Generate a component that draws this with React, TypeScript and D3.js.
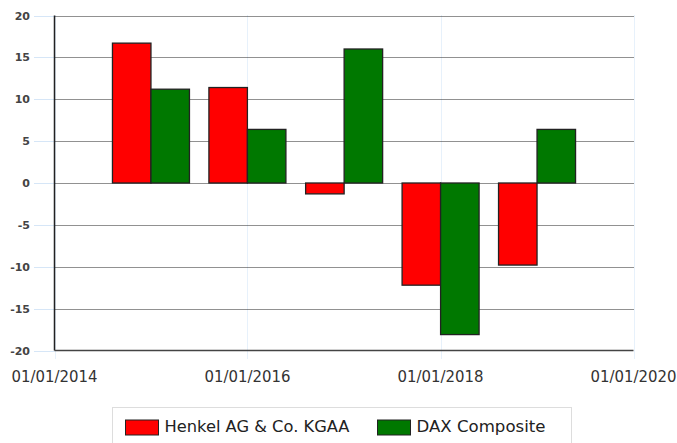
import React from "react";
import * as d3 from "d3";

const dates = ["2015-01-01", "2016-01-01", "2017-01-01", "2018-01-01", "2019-01-01"];
const henkel = [16.7, 11.4, -1.3, -12.2, -9.8];
const dax = [11.2, 6.4, 16.0, -18.1, 6.4];
const seriesNames = ["Henkel AG & Co. KGAA", "DAX Composite"];
const seriesColors = ["#ff0000", "#007800"];
const yTicks = [20, 15, 10, 5, 0, -5, -10, -15, -20];
const xTicks = ["2014-01-01", "2016-01-01", "2018-01-01", "2020-01-01"];

const W = 677, H = 443;
const L = 54.5, R = 633.5, T = 15.5, B = 350.5;

export default function App() {
  const parse = d3.utcParse("%Y-%m-%d");
  const fmt = d3.utcFormat("%m/%d/%Y");
  const x = d3.scaleUtc().domain([parse("2014-01-01")!, parse("2020-01-01")!]).range([L, R]);
  const y = d3.scaleLinear().domain([-20, 20]).range([B, T]);
  const bw = 38.5;
  const series = [henkel, dax];
  return (
    <svg width={W} height={H} style={{ position: "absolute", left: 0, top: 0, background: "#fff" }}>
      {xTicks.map((t, i) => (
        <line key={"vg" + i} x1={Math.round(x(parse(t)!)) + 0.5} x2={Math.round(x(parse(t)!)) + 0.5} y1={T} y2={B + 8}
          stroke="#cfe3f7" strokeDasharray="1,1" />
      ))}
      {yTicks.map((t, i) => (
        <g key={"hg" + i}>
          {t !== -20 && (
            <line x1={L} x2={R} y1={Math.round(y(t)) + 0.5} y2={Math.round(y(t)) + 0.5} stroke="#222" strokeDasharray="1,1" />
          )}
          <line x1={34} x2={L} y1={Math.round(y(t)) + 0.5} y2={Math.round(y(t)) + 0.5} stroke="#d6e6f7" />
          <text x={30} y={y(t) + 4} textAnchor="end" fontFamily="DejaVu Sans, Verdana, sans-serif" fontSize={11}
            fontWeight="bold" fill="#444">{t}</text>
        </g>
      ))}
      {dates.map((d, i) => {
        const cx = x(parse(d)!);
        return series.map((s, j) => {
          const v = s[i];
          const x0 = j === 0 ? cx - bw : cx;
          const y0 = y(Math.max(0, v));
          const h = Math.abs(y(v) - y(0));
          return (
            <rect key={"b" + i + "-" + j} x={x0} y={y0} width={bw} height={h}
              fill={seriesColors[j]} stroke="#222" strokeWidth={1.3} />
          );
        });
      })}
      <line x1={L} x2={L} y1={T} y2={B} stroke="#222" strokeWidth={1.5} />
      <line x1={L} x2={R} y1={B} y2={B} stroke="#444" strokeWidth={1.5} />
      {xTicks.map((t, i) => (
        <text key={"xl" + i} x={x(parse(t)!)} y={382} textAnchor="middle" fontFamily="DejaVu Sans, Verdana, sans-serif"
          fontSize={15.5} fill="#333" textLength={86} lengthAdjust="spacingAndGlyphs">{fmt(parse(t)!)}</text>
      ))}
      <rect x={112.5} y={407.5} width={459} height={40} fill="#fff" stroke="#ddd" />
      {seriesNames.map((n, j) => {
        const sx = j === 0 ? 125.5 : 377.5;
        const tl = j === 0 ? 185 : 129;
        return (
          <g key={"lg" + j}>
            <rect x={sx} y={420} width={33} height={15} fill={seriesColors[j]} stroke="#222" />
            <text x={sx + 39} y={432} fontFamily="DejaVu Sans, Verdana, sans-serif" fontSize={15} fill="#222"
              textLength={tl} lengthAdjust="spacingAndGlyphs">{n}</text>
          </g>
        );
      })}
    </svg>
  );
}
